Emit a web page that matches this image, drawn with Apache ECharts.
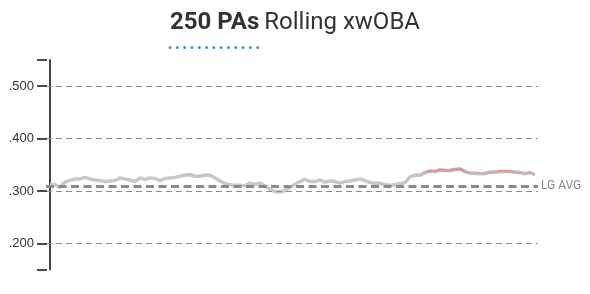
<!DOCTYPE html>
<html>
<head>
<meta charset="utf-8">
<script src="https://cdn.jsdelivr.net/npm/echarts@6/dist/echarts.min.js"></script>
<style>html,body{margin:0;padding:0;background:#fff;}#c{width:590px;height:294px;}</style>
</head>
<body>
<div id="c"></div>
<script>
// Rolling xwOBA (250 PA window), one value per step
const rollingXwoba = [
  .313,.312,.307,.317,.320,.323,.323,.326,.323,.321,
  .320,.318,.319,.320,.325,.323,.321,.318,.325,.322,
  .325,.324,.320,.324,.325,.326,.328,.330,.331,.328,
  .328,.330,.330,.325,.319,.314,.312,.311,.311,.310,
  .315,.313,.315,.310,.303,.299,.298,.301,.307,.313,
  .318,.322,.318,.318,.321,.317,.319,.318,.315,.318,
  .319,.321,.323,.320,.316,.315,.315,.312,.311,.312,
  .314,.316,.327,.330,.330,.335,.338,.337,.340,.339,
  .339,.341,.342,.337,.334,.334,.333,.333,.336,.336,
  .337,.337,.337,.336,.335,.333,.335,.331
];
const leagueAvg = 0.309;
const yTickLabels = [0.2, 0.3, 0.4, 0.5];
const yAxisEnds = [0.15, 0.55];
const titleBold = '250 PAs';
const titleRest = 'Rolling xwOBA';
const avgLabel = 'LG AVG';

const points = rollingXwoba.map((v, i) => [i, v]);
const tickValues = [yAxisEnds[0]].concat(yTickLabels, [yAxisEnds[1]]);
const chart = echarts.init(document.getElementById('c'), null, {renderer: 'canvas'});
chart.setOption({
  animation: false,
  backgroundColor: '#fff',
  title: {
    left: 'center',
    top: 6,
    text: '{b|' + titleBold + '} {r|' + titleRest + '}',
    textStyle: {
      rich: {
        b: {fontFamily: 'Roboto', fontWeight: 'bold', fontSize: 24, color: '#333'},
        r: {fontFamily: 'Roboto', fontWeight: 'normal', fontSize: 24, color: '#333'}
      }
    }
  },
  graphic: [{
    type: 'line',
    shape: {x1: 170, y1: 47.5, x2: 258, y2: 47.5},
    style: {stroke: '#4a9bb2', lineWidth: 3, lineDash: [0.1, 7.2], lineCap: 'round'}
  }],
  grid: [
    {left: 46, right: 52, top: 60, bottom: 24.4},
    {left: 37, width: 10, top: 60, bottom: 24.4}
  ],
  xAxis: [
    {type: 'value', min: -0.8, max: rollingXwoba.length - 1 + 0.6, show: false, gridIndex: 0},
    {type: 'value', min: 0, max: 1, show: false, gridIndex: 1}
  ],
  yAxis: [
    {
      type: 'value', gridIndex: 0,
      min: yAxisEnds[0], max: yAxisEnds[1],
      axisLine: {show: true, lineStyle: {color: '#444', width: 2}},
      axisTick: {show: false},
      axisLabel: {
        customValues: yTickLabels,
        formatter: v => v.toFixed(3).replace(/^0/, ''),
        color: '#333', fontFamily: 'Liberation Sans', fontSize: 13, margin: 12
      },
      splitLine: {show: false}
    },
    {
      type: 'value', gridIndex: 1, min: yAxisEnds[0], max: yAxisEnds[1], show: false
    }
  ],
  visualMap: {
    show: false, type: 'continuous', dimension: 1, seriesIndex: 1,
    min: 0.328, max: 0.341,
    inRange: {color: ['#c8c8c8', '#cf9c9c']}
  },
  series: [
    {
      type: 'line', data: [], silent: true, z: 1,
      markLine: {
        silent: true, symbol: 'none', animation: false,
        data: yTickLabels.map(v => ({
          yAxis: v,
          lineStyle: {color: '#8c8c8c', width: 1, type: [6, 4]},
          label: {show: false}
        })).concat([{
          yAxis: leagueAvg,
          lineStyle: {color: '#8a8a8a', width: 3, type: [8, 4.5]},
          label: {show: true, position: 'end', formatter: avgLabel, color: '#888',
            fontFamily: 'Roboto', fontSize: 12, distance: 3}
        }])
      }
    },
    {
      type: 'line', data: points, showSymbol: false, z: 3,
      lineStyle: {width: 3.5},
      smooth: false
    },
    {
      type: 'line', data: [], silent: true, xAxisIndex: 1, yAxisIndex: 1, z: 5,
      markLine: {
        silent: true, symbol: 'none', animation: false,
        data: tickValues.map(v => ({
          yAxis: v,
          lineStyle: {color: '#4a4a4a', width: 2, type: 'solid'},
          label: {show: false}
        }))
      }
    }
  ]
});
</script>
</body>
</html>
